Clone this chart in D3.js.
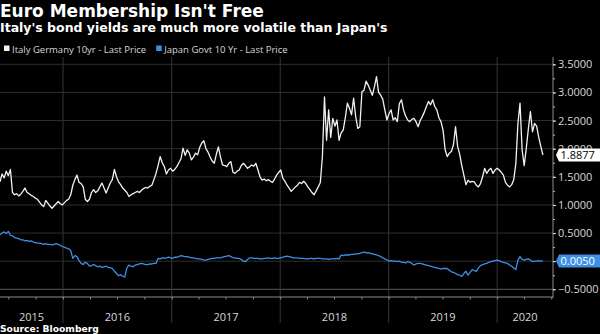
<!DOCTYPE html>
<html>
<head>
<meta charset="utf-8">
<script src="https://cdn.jsdelivr.net/npm/d3@7"></script>
<style>
  html, body { margin: 0; padding: 0; background: #000; }
  svg { display: block; }
</style>
</head>
<body>
<svg id="vis" width="600" height="334"></svg>
<script>
// weekly closes, first one on 3 Jun 2015
const startDate = new Date(2015, 5, 3);

const italySpread = [
  1.41, 1.55, 1.48, 1.60, 1.52, 1.63, 1.22, 1.18, 1.20, 1.16,
  1.19, 1.24, 1.30, 1.22, 1.20, 1.17, 1.15, 1.12, 1.10, 1.05,
  1.00, 0.97, 1.08, 1.03, 0.98, 0.94, 0.98, 1.02, 1.06, 1.02,
  1.00, 1.04, 1.08, 1.10, 1.18, 1.35, 1.45, 1.53, 1.40, 1.38,
  1.32, 1.10, 1.06, 1.10, 1.22, 1.27, 1.22, 1.25, 1.32, 1.39,
  1.30, 1.21, 1.30, 1.39, 1.45, 1.63, 1.50, 1.41, 1.36, 1.30,
  1.26, 1.22, 1.15, 1.18, 1.20, 1.22, 1.24, 1.22, 1.26, 1.29,
  1.31, 1.30, 1.33, 1.35, 1.45, 1.56, 1.70, 1.86, 1.75, 1.68,
  1.55, 1.62, 1.65, 1.60, 1.63, 1.68, 1.75, 1.82, 2.01, 1.88,
  1.98, 1.92, 1.80, 1.85, 1.92, 1.89, 2.02, 2.10, 2.14, 2.00,
  1.94, 1.85, 1.78, 1.74, 1.90, 2.03, 1.85, 1.71, 1.70, 1.68,
  1.74, 1.77, 1.58, 1.56, 1.60, 1.62, 1.70, 1.74, 1.70, 1.65,
  1.68, 1.71, 1.69, 1.74, 1.62, 1.50, 1.44, 1.46, 1.43, 1.45,
  1.42, 1.40, 1.46, 1.53, 1.58, 1.62, 1.47, 1.42, 1.35, 1.30,
  1.24, 1.28, 1.32, 1.35, 1.40, 1.38, 1.42, 1.38, 1.32, 1.27,
  1.22, 1.18, 1.25, 1.32, 1.40, 1.86, 2.92, 2.15, 2.69, 2.20,
  2.54, 2.40, 2.51, 2.15, 2.28, 2.33, 2.55, 2.81, 2.72, 2.60,
  2.90, 2.57, 2.36, 2.39, 3.01, 3.04, 3.20, 3.13, 3.04, 2.95,
  3.10, 3.28, 3.00, 2.95, 2.88, 2.69, 2.51, 2.62, 2.69, 2.51,
  2.55, 2.48, 2.80, 2.87, 2.69, 2.58, 2.51, 2.48, 2.52, 2.54,
  2.48, 2.39, 2.50, 2.57, 2.65, 2.75, 2.84, 2.78, 2.87, 2.75,
  2.69, 2.55, 2.48, 2.33, 1.98, 1.86, 1.92, 1.95, 2.07, 2.39,
  2.04, 1.90, 1.70, 1.53, 1.36, 1.44, 1.40, 1.42, 1.41, 1.35,
  1.32, 1.38, 1.50, 1.65, 1.56, 1.62, 1.65, 1.56, 1.62, 1.65,
  1.62, 1.58, 1.53, 1.40, 1.35, 1.32, 1.36, 1.45, 1.74, 2.45,
  2.81, 1.98, 1.70, 2.00, 2.35, 2.66, 2.30, 2.45, 2.40, 2.20,
  2.04, 1.8877
];

const japanYield = [
  0.47, 0.50, 0.52, 0.49, 0.53, 0.46, 0.45, 0.42, 0.41, 0.40,
  0.38, 0.38, 0.36, 0.37, 0.35, 0.36, 0.34, 0.33, 0.32, 0.32,
  0.31, 0.30, 0.31, 0.30, 0.30, 0.29, 0.30, 0.31, 0.30, 0.28,
  0.26, 0.25, 0.23, 0.22, 0.19, 0.05, 0.10, 0.08, 0.01, -0.04,
  -0.06, -0.02, -0.04, -0.09, -0.08, -0.06, -0.08, -0.10, -0.09, -0.11,
  -0.10, -0.09, -0.11, -0.12, -0.13, -0.18, -0.22, -0.26, -0.24, -0.27,
  -0.28, -0.12, -0.07, -0.09, -0.10, -0.07, -0.06, -0.05, -0.04, -0.05,
  -0.06, -0.06, -0.05, -0.05, -0.04, -0.04, 0.05, 0.04, 0.06, 0.05,
  0.06, 0.07, 0.06, 0.05, 0.07, 0.07, 0.08, 0.10, 0.09, 0.08,
  0.08, 0.07, 0.06, 0.06, 0.05, 0.04, 0.04, 0.03, 0.02, 0.02,
  0.03, 0.04, 0.05, 0.05, 0.06, 0.06, 0.06, 0.07, 0.08, 0.09,
  0.10, 0.08, 0.06, 0.06, 0.05, 0.05, 0.03, 0.00, -0.01, 0.03,
  0.06, 0.06, 0.05, 0.05, 0.05, 0.04, 0.04, 0.05, 0.05, 0.06,
  0.05, 0.05, 0.06, 0.05, 0.05, 0.06, 0.07, 0.08, 0.09, 0.08,
  0.07, 0.06, 0.06, 0.06, 0.05, 0.05, 0.05, 0.04, 0.04, 0.05,
  0.05, 0.04, 0.05, 0.05, 0.05, 0.04, 0.04, 0.04, 0.03, 0.04,
  0.04, 0.04, 0.05, 0.04, 0.11, 0.10, 0.11, 0.11, 0.11, 0.12,
  0.12, 0.13, 0.13, 0.14, 0.15, 0.16, 0.15, 0.15, 0.14, 0.13,
  0.12, 0.11, 0.10, 0.08, 0.06, 0.04, 0.02, 0.00, 0.01, 0.00,
  0.00, -0.01, 0.00, -0.02, -0.02, -0.03, -0.01, -0.02, -0.04, -0.07,
  -0.05, -0.04, -0.04, -0.05, -0.06, -0.07, -0.08, -0.09, -0.10, -0.11,
  -0.12, -0.13, -0.14, -0.13, -0.13, -0.13, -0.16, -0.19, -0.20, -0.22,
  -0.24, -0.25, -0.27, -0.22, -0.18, -0.25, -0.20, -0.15, -0.17, -0.18,
  -0.12, -0.08, -0.06, -0.05, -0.04, -0.02, -0.01, 0.00, 0.01, 0.02,
  0.01, -0.01, -0.02, -0.03, -0.04, -0.07, -0.09, -0.12, -0.15, 0.02,
  0.08, 0.03, 0.02, 0.03, 0.04, 0.02, -0.01, 0.00, 0.00, 0.01,
  0.00, 0.005
];

const yTicks = [-0.5, 0, 0.5, 1, 1.5, 2, 2.5, 3, 3.5];
const years = [2015, 2016, 2017, 2018, 2019, 2020];
const seriesNames = ['Italy Germany 10yr - Last Price', 'Japan Govt 10 Yr - Last Price'];
const seriesColors = ['#f2f2f2', '#3d8fe3'];

const vis = d3.select('#vis');
const plotLeft = 0, plotRight = 553, plotTop = 57, plotBottom = 289.3, axisY = 297;

const x = d3.scaleTime()
  .domain([new Date(2015, 5, 3), new Date(2020, 6, 7)])
  .range([plotLeft, plotRight]);

const y = d3.scaleLinear()
  .domain([-0.5, 3.5])
  .range([plotBottom, 64.3]);

const toPoints = vals => vals.map((v, i) => ({ date: d3.timeDay.offset(startDate, i * 7), value: v }));
const series = [toPoints(italySpread), toPoints(japanYield)];
const lastValues = series.map(s => s[s.length - 1].value);

// title block
vis.append('text')
  .attr('x', 0).attr('y', 17)
  .attr('fill', '#fff')
  .style('font', 'bold 17px "DejaVu Sans"')
  .text("Euro Membership Isn't Free");

vis.append('text')
  .attr('x', 0).attr('y', 32)
  .attr('fill', '#fff')
  .style('font', 'bold 12.5px "DejaVu Sans"')
  .text("Italy's bond yields are much more volatile than Japan's");

// legend
const legend = vis.append('g').attr('transform', 'translate(0,49)');
let legendX = 4;
seriesNames.forEach((name, i) => {
  legend.append('rect')
    .attr('x', legendX).attr('y', -3.5)
    .attr('width', 5.5).attr('height', 5.5)
    .attr('fill', seriesColors[i]);
  const t = legend.append('text')
    .attr('x', legendX + 8).attr('y', 3.5)
    .attr('fill', '#d8d8d8')
    .style('font', '9.5px "Open Sans"')
    .text(name);
  legendX += 8 + t.node().getComputedTextLength() + 10;
});

// horizontal grid
vis.append('g')
  .selectAll('line')
  .data(yTicks)
  .join('line')
    .attr('x1', plotLeft).attr('x2', plotRight)
    .attr('y1', d => y(d)).attr('y2', d => y(d))
    .attr('stroke', d => d === -0.5 ? '#5a5a5a' : '#2e2e2e')
    .attr('stroke-width', 1);

// year separators run down through the label band
vis.append('g')
  .selectAll('line')
  .data(years.slice(1))
  .join('line')
    .attr('x1', d => x(new Date(d, 0, 1))).attr('x2', d => x(new Date(d, 0, 1)))
    .attr('y1', plotTop).attr('y2', 323)
    .attr('stroke', '#363636')
    .attr('stroke-width', 1);

// bottom axis with quarterly ticks
const xAxis = vis.append('g')
  .attr('transform', `translate(0,${axisY})`)
  .call(d3.axisBottom(x).ticks(d3.timeMonth.every(3)).tickSize(2.5).tickFormat(''));
xAxis.select('.domain').attr('stroke', '#8a8a8a').attr('d', `M${plotLeft},0H${plotRight}`);
xAxis.selectAll('.tick line').attr('stroke', '#8a8a8a');

vis.append('g')
  .selectAll('text')
  .data(years)
  .join('text')
    .attr('x', d => {
      const a = Math.max(x(new Date(d, 0, 1)), plotLeft);
      const b = Math.min(x(new Date(d + 1, 0, 1)), plotRight);
      return (a + b) / 2;
    })
    .attr('y', 321)
    .attr('text-anchor', 'middle')
    .attr('fill', '#d8d8d8')
    .style('font', '11px "Open Sans"')
    .text(d => d);

// right axis
const minorTicks = d3.range(-0.5, 3.51, 0.25);
const yMinor = vis.append('g')
  .attr('transform', `translate(${plotRight},0)`)
  .call(d3.axisRight(y).tickValues(minorTicks).tickSize(2).tickFormat(''));
yMinor.select('.domain').attr('stroke', '#8a8a8a').attr('d', `M0,${plotTop}V${axisY + 1}`);
yMinor.selectAll('.tick line').attr('stroke', '#bbb');

// a label sitting right under a last-value tag is hidden by it
const hiddenByTag = d => lastValues.some(v => Math.abs(y(v) - y(d)) < 4);
const yAxis = vis.append('g')
  .attr('transform', `translate(${plotRight},0)`)
  .call(d3.axisRight(y).tickValues(yTicks).tickSize(3).tickPadding(2)
    .tickFormat(d => hiddenByTag(d) ? '' : d3.format('.4f')(d)));
yAxis.select('.domain').remove();
yAxis.selectAll('.tick line').attr('stroke', '#ddd');
yAxis.selectAll('.tick text')
  .attr('fill', '#d8d8d8')
  .style('font', '11px "Open Sans"');

// series lines
const line = d3.line()
  .x(d => x(d.date))
  .y(d => y(d.value));

vis.append('g')
  .selectAll('path')
  .data(series)
  .join('path')
    .attr('d', line)
    .attr('fill', 'none')
    .attr('stroke', (d, i) => seriesColors[i])
    .attr('stroke-width', 1.3)
    .attr('stroke-linejoin', 'round');

// last value tags
const tagFill = ['#fff', seriesColors[1]];
const tagText = ['#000', '#fff'];
const tags = vis.append('g')
  .selectAll('g')
  .data(lastValues)
  .join('g')
    .attr('transform', d => `translate(556,${y(d)})`);

tags.append('path')
  .attr('d', 'M0,0 L3,-6.5 H48 V6.5 H3 Z')
  .attr('fill', (d, i) => tagFill[i]);

tags.append('text')
  .attr('x', 4.5).attr('y', 4)
  .attr('fill', (d, i) => tagText[i])
  .style('font', '11px "Open Sans"')
  .text(d => d3.format('.4f')(d));

vis.append('text')
  .attr('x', 0).attr('y', 332)
  .attr('fill', '#fff')
  .style('font', 'bold 9.2px "DejaVu Sans"')
  .text('Source: Bloomberg');
</script>
</body>
</html>
